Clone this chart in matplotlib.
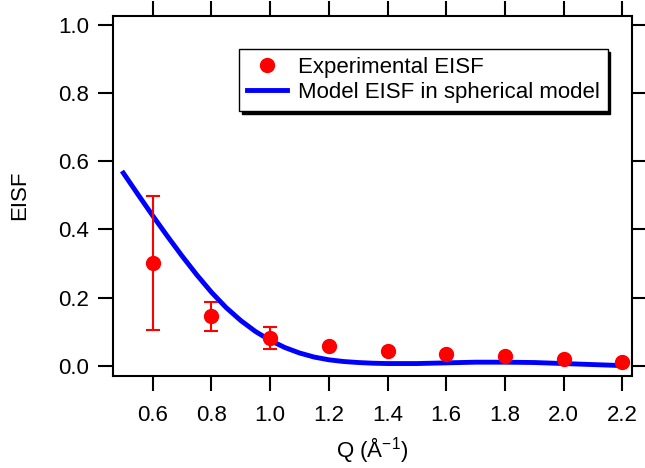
import matplotlib
matplotlib.use("Agg")
import matplotlib.pyplot as plt
import numpy as np

# Experimental EISF
q_exp = [0.6, 0.8, 1.0, 1.2, 1.4, 1.6, 1.8, 2.0, 2.2]
eisf_exp = [0.301, 0.145, 0.081, 0.057, 0.045, 0.036, 0.029, 0.020, 0.013]
# error bars (only visible on first three points)
q_err = [0.6, 0.8, 1.0]
eisf_err_val = [0.301, 0.145, 0.081]
eisf_err = [0.197, 0.043, 0.032]

# Model EISF in spherical model
q_model = [0.50, 0.55, 0.60, 0.65, 0.70, 0.75, 0.80, 0.85, 0.90, 0.95, 1.00,
           1.05, 1.10, 1.15, 1.20, 1.25, 1.30, 1.35, 1.40, 1.50, 1.60, 1.70,
           1.80, 1.90, 2.00, 2.10, 2.20]
eisf_model = [0.565, 0.502, 0.440, 0.380, 0.322, 0.267, 0.216, 0.171, 0.133,
              0.101, 0.075, 0.054, 0.038, 0.026, 0.018, 0.013, 0.010, 0.008,
              0.007, 0.007, 0.009, 0.011, 0.011, 0.010, 0.007, 0.004, 0.001]

x_ticks = [0.6, 0.8, 1.0, 1.2, 1.4, 1.6, 1.8, 2.0, 2.2]
y_ticks = [0.0, 0.2, 0.4, 0.6, 0.8, 1.0]

plt.rcParams['font.family'] = ['Liberation Sans', 'DejaVu Sans']
plt.rcParams['mathtext.fontset'] = 'custom'
plt.rcParams['mathtext.rm'] = 'Liberation Sans'
plt.rcParams['mathtext.default'] = 'regular'

FS = 16

fig = plt.figure(figsize=(6.45, 4.68), dpi=100)
ax = fig.add_axes([113/645, 1-375.5/468, (632-113)/645, (375.5-16)/468])

ax.plot(q_model, eisf_model, color='#0000ff', lw=3.5, label='Model EISF in spherical model', zorder=3)
ax.errorbar(q_err, eisf_err_val, yerr=eisf_err, fmt='none', ecolor='#ff0000',
            elinewidth=1.5, capsize=5, capthick=1.5, zorder=4)
ax.plot(q_exp, eisf_exp, 'o', color='#ff0000', ms=10, mec='#ff0000',
        label='Experimental EISF', zorder=5)

ax.set_xlim(0.4647, 2.233)
ax.set_ylim(-0.028, 1.025)
ax.set_xticks(x_ticks)
ax.set_yticks(y_ticks)
ax.set_xticklabels([f"{v:.1f}" for v in x_ticks])
ax.set_yticklabels([f"{v:.1f}" for v in y_ticks])

for s in ax.spines.values():
    s.set_linewidth(1.5)
ax.tick_params(which='both', direction='out', length=11, width=1.5,
               top=True, right=True, labelsize=FS)
ax.tick_params(axis='x', pad=10)
ax.tick_params(axis='y', pad=6)

ax.set_xlabel('Q (Å$^{-1}$)', fontsize=FS, labelpad=7)
ax.set_ylabel('EISF', fontsize=FS, labelpad=20)

h, l = ax.get_legend_handles_labels()
leg = ax.legend([h[1], h[0]], [l[1], l[0]], loc='upper left',
                bbox_to_anchor=((239-113)/519, (375.5-49)/359.5),
                borderaxespad=0, fontsize=FS, frameon=True, fancybox=False,
                shadow={'color': 'black', 'alpha': 1.0}, framealpha=1,
                edgecolor='black', handlelength=1.8, handletextpad=0.5,
                borderpad=0.35, labelspacing=0.2, numpoints=1)
leg.get_frame().set_linewidth(1.0)

fig.savefig('out.png', dpi=100)
